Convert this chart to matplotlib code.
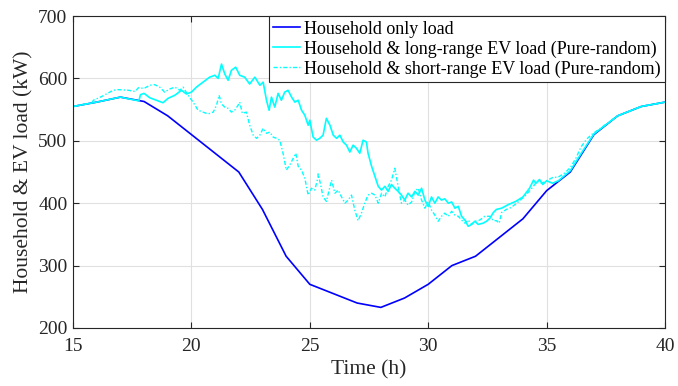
import matplotlib
matplotlib.use("Agg")
import matplotlib.pyplot as plt

plt.rcParams["font.family"] = ["Liberation Serif", "DejaVu Serif"]

# Household-only load, hourly
hours = [15, 16, 17, 18, 19, 20, 21, 22, 23, 24, 25, 26, 27, 28,
         29, 30, 31, 32, 33, 34, 35, 36, 37, 38, 39, 40]
household = [555, 562, 570, 563, 540, 510, 480, 450, 390, 315, 270, 255, 240, 233,
             248, 270, 300, 315, 345, 375, 420, 450, 510, 540, 555, 562]

# Household + long-range EV load (pure-random charging)
long_t = [15, 16, 17, 17.78, 17.85, 18.0, 18.24, 18.52, 18.80, 19.01, 19.30, 19.58,
          19.79, 20.00, 20.21, 20.49, 20.77, 20.99, 21.13, 21.27, 21.41, 21.55,
          21.69, 21.87, 22.04, 22.25, 22.46, 22.68, 22.89, 23.03, 23.17, 23.28,
          23.38, 23.52, 23.66, 23.80, 23.94, 24.08, 24.23, 24.37, 24.51, 24.65,
          24.79, 24.93, 25.00, 25.14, 25.28, 25.42, 25.56, 25.70, 25.85, 25.99,
          26.13, 26.27, 26.41, 26.55, 26.69, 26.83, 26.97, 27.11, 27.25, 27.39,
          27.46, 27.61, 27.75, 27.89, 28.03, 28.17, 28.31, 28.45, 28.59, 28.73,
          28.87, 29.01, 29.15, 29.30, 29.44, 29.58, 29.72, 29.86, 30.00, 30.14,
          30.28, 30.42, 30.56, 30.70, 30.85, 30.99, 31.13, 31.27, 31.41, 31.55,
          31.69, 31.83, 31.97, 32.11, 32.32, 32.46, 32.61, 32.75, 32.88, 33.10,
          33.40, 33.70, 34.00, 34.28, 34.45, 34.55, 34.70, 34.84, 35.00, 35.25,
          35.50, 36, 36.5, 37, 38, 39, 40]
long_load = [555, 562, 570, 564, 574, 576, 569, 565, 561, 568, 573, 581,
             575, 578, 586, 594, 602, 605, 600, 623, 607, 597,
             613, 618, 605, 602, 591, 602, 589, 594, 565, 549,
             570, 554, 576, 565, 578, 581, 570, 562, 565, 549,
             541, 525, 533, 506, 501, 504, 509, 536, 525, 509,
             504, 509, 498, 493, 482, 493, 488, 480, 501, 498,
             480, 459, 443, 427, 421, 427, 419, 430, 424, 419,
             413, 405, 416, 410, 419, 413, 424, 405, 395, 410,
             400, 410, 405, 407, 400, 402, 392, 395, 379, 373,
             363, 366, 371, 366, 368, 371, 376, 385, 390, 392,
             398, 403, 410, 424, 437, 432, 438, 430, 436, 432,
             436, 452, 482, 511, 540, 555, 562]

# Household + short-range EV load (pure-random charging)
short_t = [15, 15.80, 15.86, 16.21, 16.70, 16.92, 17.34, 17.62, 17.76, 18.00,
           18.24, 18.45, 18.66, 18.87, 19.08, 19.30, 19.51, 19.65, 19.86, 20.07,
           20.28, 20.49, 20.70, 20.92, 21.06, 21.17, 21.27, 21.41, 21.55, 21.69,
           21.83, 21.97, 22.04, 22.15, 22.32, 22.46, 22.61, 22.75, 22.89, 23.03,
           23.17, 23.31, 23.45, 23.59, 23.73, 23.87, 24.01, 24.15, 24.30, 24.41,
           24.51, 24.65, 24.79, 24.93, 25.07, 25.21, 25.35, 25.35, 25.45, 25.56,
           25.70, 25.92, 26.06, 26.20, 26.34, 26.48, 26.62, 26.76, 26.90, 27.04,
           27.18, 27.32, 27.46, 27.61, 27.75, 27.89, 28.03, 28.17, 28.31, 28.45,
           28.59, 28.73, 28.87, 29.01, 29.15, 29.30, 29.44, 29.58, 29.72, 29.86,
           30.00, 30.14, 30.28, 30.42, 30.56, 30.70, 30.85, 30.99, 31.13, 31.27,
           31.41, 31.55, 31.69, 31.83, 31.97, 32.18, 32.39, 32.61, 32.75, 32.88,
           33.00, 33.10, 33.30, 33.50, 33.80, 34.10, 34.40, 34.60, 34.80, 35.00,
           35.25, 35.50, 35.75, 36.00, 36.25, 36.45, 36.70, 36.90, 38, 39, 40]
short_load = [555, 561, 565, 571, 581, 582, 581, 579, 585, 584,
              589, 590, 586, 578, 583, 586, 581, 586, 573, 562,
              549, 546, 543, 546, 557, 573, 559, 554, 552, 546,
              549, 557, 562, 544, 546, 525, 509, 504, 509, 520,
              512, 514, 506, 504, 501, 480, 453, 461, 472, 480,
              459, 453, 440, 413, 424, 421, 442, 447, 431, 410,
              403, 437, 416, 421, 410, 400, 405, 413, 389, 372,
              384, 400, 413, 416, 413, 400, 416, 410, 427, 437,
              456, 427, 400, 405, 397, 402, 419, 424, 405, 392,
              402, 389, 381, 371, 379, 384, 379, 387, 381, 379,
              373, 368, 373, 366, 371, 373, 379, 379, 372, 372,
              368, 385, 390, 393, 402, 412, 425, 435, 432, 436,
              441, 442, 448, 457, 473, 490, 503, 510, 540, 555, 562]

fig = plt.figure(figsize=(6.78, 3.86), dpi=100)
ax = fig.add_axes([0.1077, 0.1503, 0.8731, 0.8082])

ax.plot(hours, household, color="#0000ff", linewidth=1.2,
        label="Household only load")
ax.plot(long_t, long_load, color="#00ffff", linewidth=1.2,
        label="Household & long-range EV load (Pure-random)")
ax.plot(short_t, short_load, color="#00ffff", linewidth=1.0,
        linestyle=(0, (3, 1.5, 1, 1.5)),
        label="Household & short-range EV load (Pure-random)")

ax.set_xlim(15, 40)
ax.set_ylim(200, 700)
ax.set_xticks([15, 20, 25, 30, 35, 40])
ax.set_yticks([200, 300, 400, 500, 600, 700])
ax.grid(True, color="#e0e0e0", linewidth=0.8)
ax.set_axisbelow(True)
ax.tick_params(direction="in", length=4, labelsize=14, top=True, right=True,
               color="#262626", labelcolor="#262626")
ax.tick_params(axis="x", pad=7)
ax.tick_params(axis="y", pad=4)
for sp in ax.spines.values():
    sp.set_color("#262626")
    sp.set_linewidth(0.8)

ax.set_xlabel("Time (h)", fontsize=15.5, color="#262626", labelpad=4)
ax.set_ylabel("Household & EV load (kW)", fontsize=15.5, color="#262626", labelpad=3)

leg = ax.legend(loc="upper right", fontsize=13, frameon=True, fancybox=False,
                framealpha=1, edgecolor="#262626", borderaxespad=0,
                borderpad=0.25, labelspacing=0.15, handlelength=1.5,
                handletextpad=0.2)
leg.get_frame().set_linewidth(0.8)

fig.savefig("out.png", dpi=100)
